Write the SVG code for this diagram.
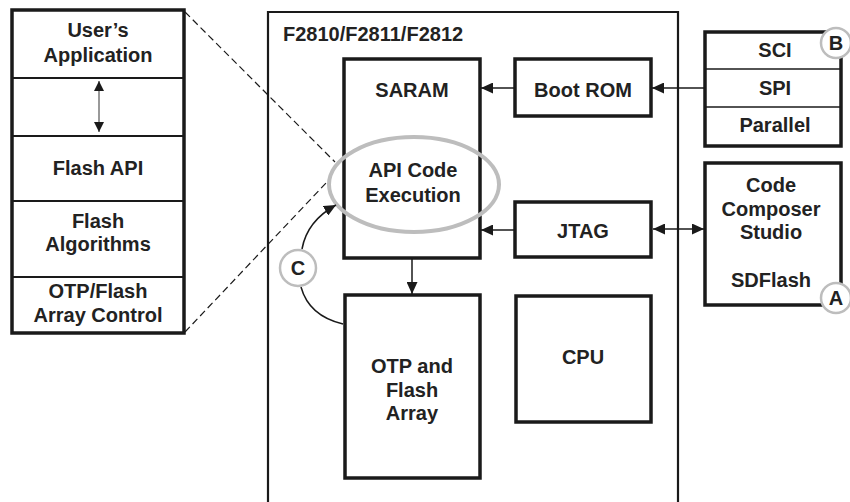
<svg xmlns="http://www.w3.org/2000/svg" width="850" height="502" viewBox="0 0 850 502">
<style>
.t{font-family:"Liberation Sans",Arial,Helvetica,sans-serif;font-weight:bold;font-size:20px;fill:#222;text-anchor:middle}
.box{fill:#fff;stroke:#1a1a1a;stroke-width:3.5}
.div{stroke:#1a1a1a;stroke-width:2}
.div2{stroke:#1a1a1a;stroke-width:1.5}
.ln{fill:none;stroke:#1a1a1a;stroke-width:1.5}
.dash{fill:none;stroke:#1a1a1a;stroke-width:1.2;stroke-dasharray:7 4}
.tag{fill:#fff;stroke:#bdbdbd;stroke-width:2.5}
</style>
<defs>
<marker id="ah" markerUnits="userSpaceOnUse" markerWidth="13" markerHeight="11" refX="12" refY="5.5" orient="auto-start-reverse">
<path d="M0,0 L12,5.5 L0,11 z" fill="#1a1a1a"/>
</marker>
<marker id="ahs" markerUnits="userSpaceOnUse" markerWidth="11" markerHeight="10" refX="10" refY="5" orient="auto-start-reverse">
<path d="M0,0 L10,5 L0,10 z" fill="#1a1a1a"/>
</marker>
</defs>

<g id="main-device">
<path d="M268,510 L268,12 L678,12 L678,510" fill="none" stroke="#1a1a1a" stroke-width="2.2"/>
<text class="t" x="283" y="41" style="text-anchor:start">F2810/F2811/F2812</text>
</g>

<g id="software-stack">
<rect class="box" x="12" y="10" width="172" height="323"/>
<line class="div" x1="12" y1="78" x2="184" y2="78"/>
<line class="div" x1="12" y1="136" x2="184" y2="136"/>
<line class="div" x1="12" y1="201" x2="184" y2="201"/>
<line class="div" x1="12" y1="277" x2="184" y2="277"/>
<text class="t" x="98" y="37">User’s</text>
<text class="t" x="98" y="62">Application</text>
<line x1="99" y1="81" x2="99" y2="132" stroke="#777" stroke-width="1.5" marker-start="url(#ahs)" marker-end="url(#ahs)"/>
<text class="t" x="98" y="175">Flash API</text>
<text class="t" x="98" y="228">Flash</text>
<text class="t" x="98" y="251">Algorithms</text>
<text class="t" x="98" y="298">OTP/Flash</text>
<text class="t" x="98" y="322">Array Control</text>
</g>

<g id="saram">
<rect class="box" x="344" y="59" width="136" height="199"/>
<text class="t" x="412" y="97">SARAM</text>
</g>

<g id="api-code-execution">
<ellipse cx="414" cy="184.5" rx="85" ry="47.5" fill="none" stroke="#bdbdbd" stroke-width="4"/>
<text class="t" x="413" y="177">API Code</text>
<text class="t" x="413" y="202">Execution</text>
</g>

<g id="boot-rom">
<rect class="box" x="515" y="59" width="136" height="57"/>
<text class="t" x="583" y="97">Boot ROM</text>
</g>

<g id="jtag">
<rect class="box" x="515" y="202" width="136" height="55"/>
<text class="t" x="583" y="238">JTAG</text>
</g>

<g id="otp-flash-array">
<rect class="box" x="345" y="295" width="135" height="183"/>
<text class="t" x="412" y="373">OTP and</text>
<text class="t" x="412" y="397">Flash</text>
<text class="t" x="412" y="420">Array</text>
</g>

<g id="cpu">
<rect class="box" x="516" y="296" width="135" height="126"/>
<text class="t" x="583" y="364">CPU</text>
</g>

<g id="sci-spi-parallel">
<rect class="box" x="705" y="32" width="136" height="114"/>
<line class="div2" x1="705" y1="69" x2="841" y2="69"/>
<line class="div2" x1="705" y1="107" x2="841" y2="107"/>
<text class="t" x="775" y="57">SCI</text>
<text class="t" x="775" y="95">SPI</text>
<text class="t" x="775" y="132">Parallel</text>
</g>

<g id="code-composer-studio">
<rect class="box" x="705" y="163" width="136" height="142"/>
<text class="t" x="771" y="192">Code</text>
<text class="t" x="771" y="216">Composer</text>
<text class="t" x="771" y="239">Studio</text>
<text class="t" x="771" y="287">SDFlash</text>
</g>

<g id="tag-b">
<circle class="tag" cx="836" cy="43" r="15"/>
<text class="t" x="836" y="50">B</text>
</g>

<g id="tag-a">
<circle class="tag" cx="836" cy="298" r="15"/>
<text class="t" x="836" y="305">A</text>
</g>

<g id="connectors">
<line class="ln" x1="705" y1="88" x2="652" y2="88" marker-end="url(#ah)"/>
<line class="ln" x1="515" y1="88" x2="481" y2="88" marker-end="url(#ah)"/>
<line class="ln" x1="653" y1="229" x2="704" y2="229" marker-start="url(#ah)" marker-end="url(#ah)"/>
<line class="ln" x1="515" y1="230" x2="481" y2="230" marker-end="url(#ah)"/>
<line class="ln" x1="412" y1="258" x2="412" y2="294" marker-end="url(#ah)"/>
<line class="dash" x1="185" y1="12" x2="335" y2="162"/>
<line class="dash" x1="185" y1="332" x2="327" y2="182"/>
<path class="ln" d="M343,324 Q309,316 301,287"/>
<path class="ln" d="M302,249 Q307,221 336,205" marker-end="url(#ah)"/>
</g>

<g id="tag-c">
<circle class="tag" cx="298" cy="268" r="18"/>
<text class="t" x="298" y="275">C</text>
</g>
</svg>
